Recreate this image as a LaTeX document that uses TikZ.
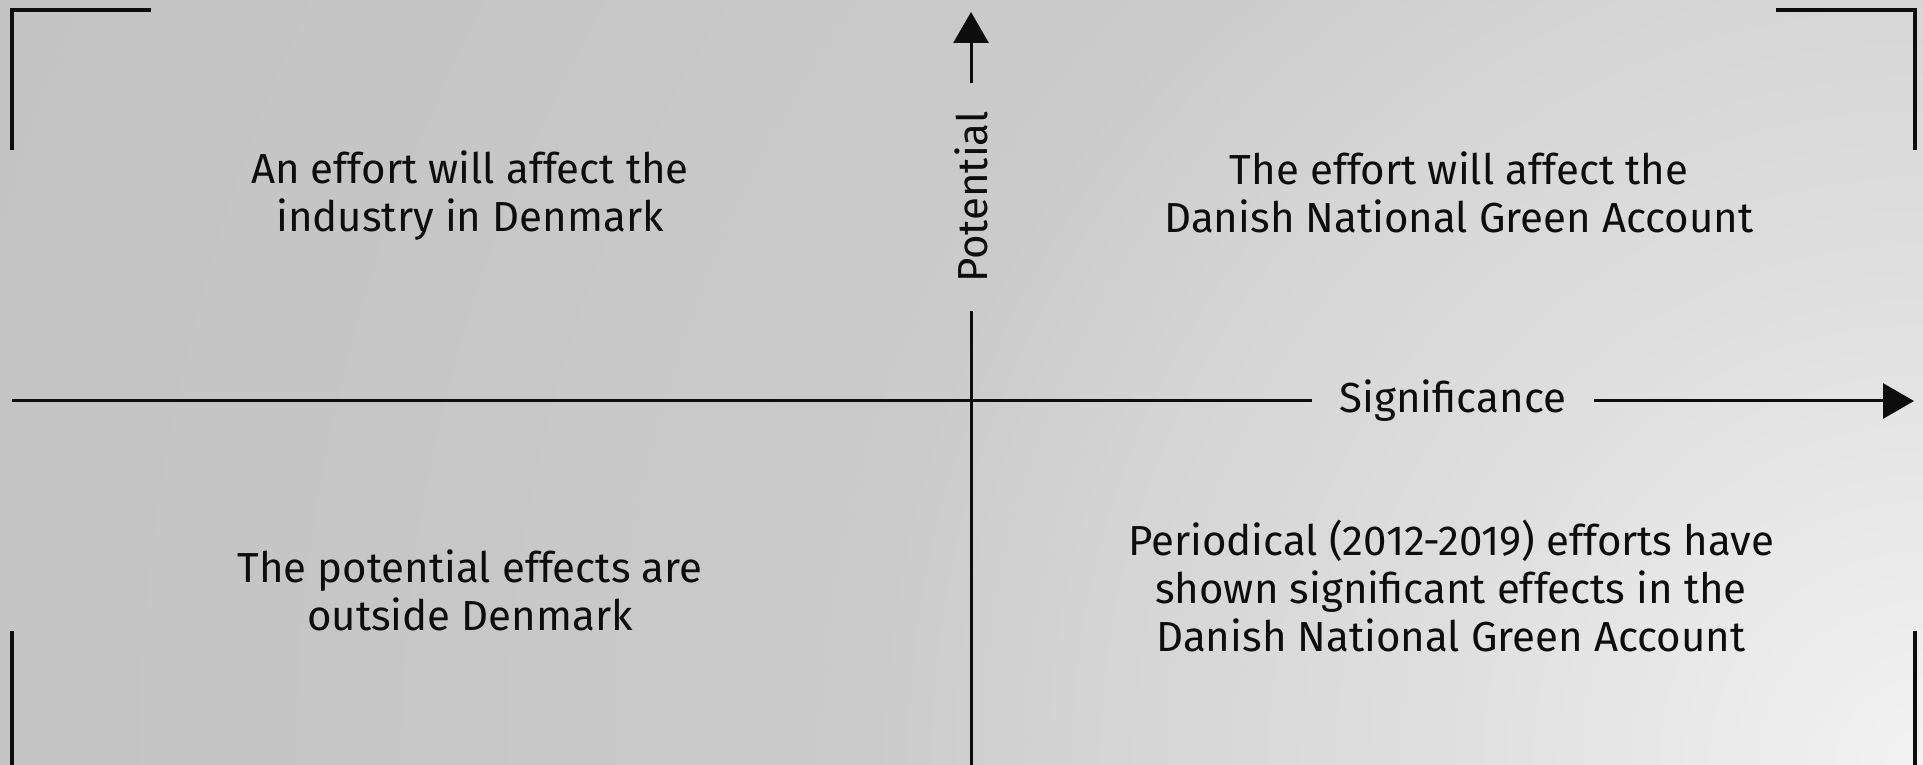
\documentclass[tikz,border=0pt]{standalone}
\usepackage{fontspec}
\setmainfont{Fira Sans}
\usetikzlibrary{arrows.meta}

\definecolor{bgA}{HTML}{F2F2F2}
\definecolor{bgB}{HTML}{DEDEDE}
\definecolor{bgC}{HTML}{D4D4D4}
\definecolor{bgD}{HTML}{CBCBCB}
\definecolor{bgE}{HTML}{C5C5C5}
\definecolor{bgF}{HTML}{C3C3C3}
\definecolor{ink}{HTML}{0D0D0D}
\pgfdeclareradialshading{bgfade}{\pgfpoint{0bp}{0bp}}{%
  color(0bp)=(bgA); color(6bp)=(bgB); color(10bp)=(bgC);
  color(12.5bp)=(bgD); color(20bp)=(bgE); color(25bp)=(bgF); color(50bp)=(bgF)}

\begin{document}
\begin{tikzpicture}[x=1pt,y=1pt,
    quad/.style={font=\fontsize{42}{48}\selectfont, align=center, text=ink},
    axislabel/.style={font=\fontsize{42}{48}\selectfont, text=ink, inner xsep=28pt, inner ysep=0pt},
    corner/.style={line width=3.5pt, draw=ink},
    axis/.style={line width=3pt, draw=ink},
    tip/.style={-{Triangle[length=31pt,width=35pt]}}]
  \def\W{1923}
  \def\H{765}
  \useasboundingbox (0,0) rectangle (\W,\H);

  % background
  \begin{scope}
    \clip (0,0) rectangle (\W,\H);
    \shade[shading=bgfade] (\W,0) circle (2100);
  \end{scope}

  % corner marks
  \draw[corner] (151,755) -- (12,755) -- (12,615);
  \draw[corner] (1776,755) -- (1915,755) -- (1915,615);
  \draw[corner] (12,134) -- (12,0);
  \draw[corner] (1915,134) -- (1915,0);

  % axes
  \coordinate (left) at (12,364);
  \coordinate (right) at (1914,364);
  \coordinate (bottom) at (971,0);
  \coordinate (top) at (971,753);
  \node[axislabel] (sig) at (1453,364) {Significance};
  \node[axislabel, rotate=90] (pot) at (971,568) {Potential};

  \draw[axis] (left) -- (sig);
  \draw[axis, tip] (sig) -- (right);
  \draw[axis] (bottom) -- (pot);
  \draw[axis, tip] (pot) -- (top);

  % quadrants
  \node[quad] (q1) at (470,569) {An effort will affect the\\industry in Denmark};
  \node[quad] (q2) at (1459,573) {The effort will affect the\\Danish National Green Account};
  \node[quad] (q3) at (470,175) {The potential effects are\\outside Denmark};
  \node[quad] (q4) at (1451,179) {Periodical (2012-2019) efforts have\\shown significant effects in the\\Danish National Green Account};
\end{tikzpicture}
\end{document}
